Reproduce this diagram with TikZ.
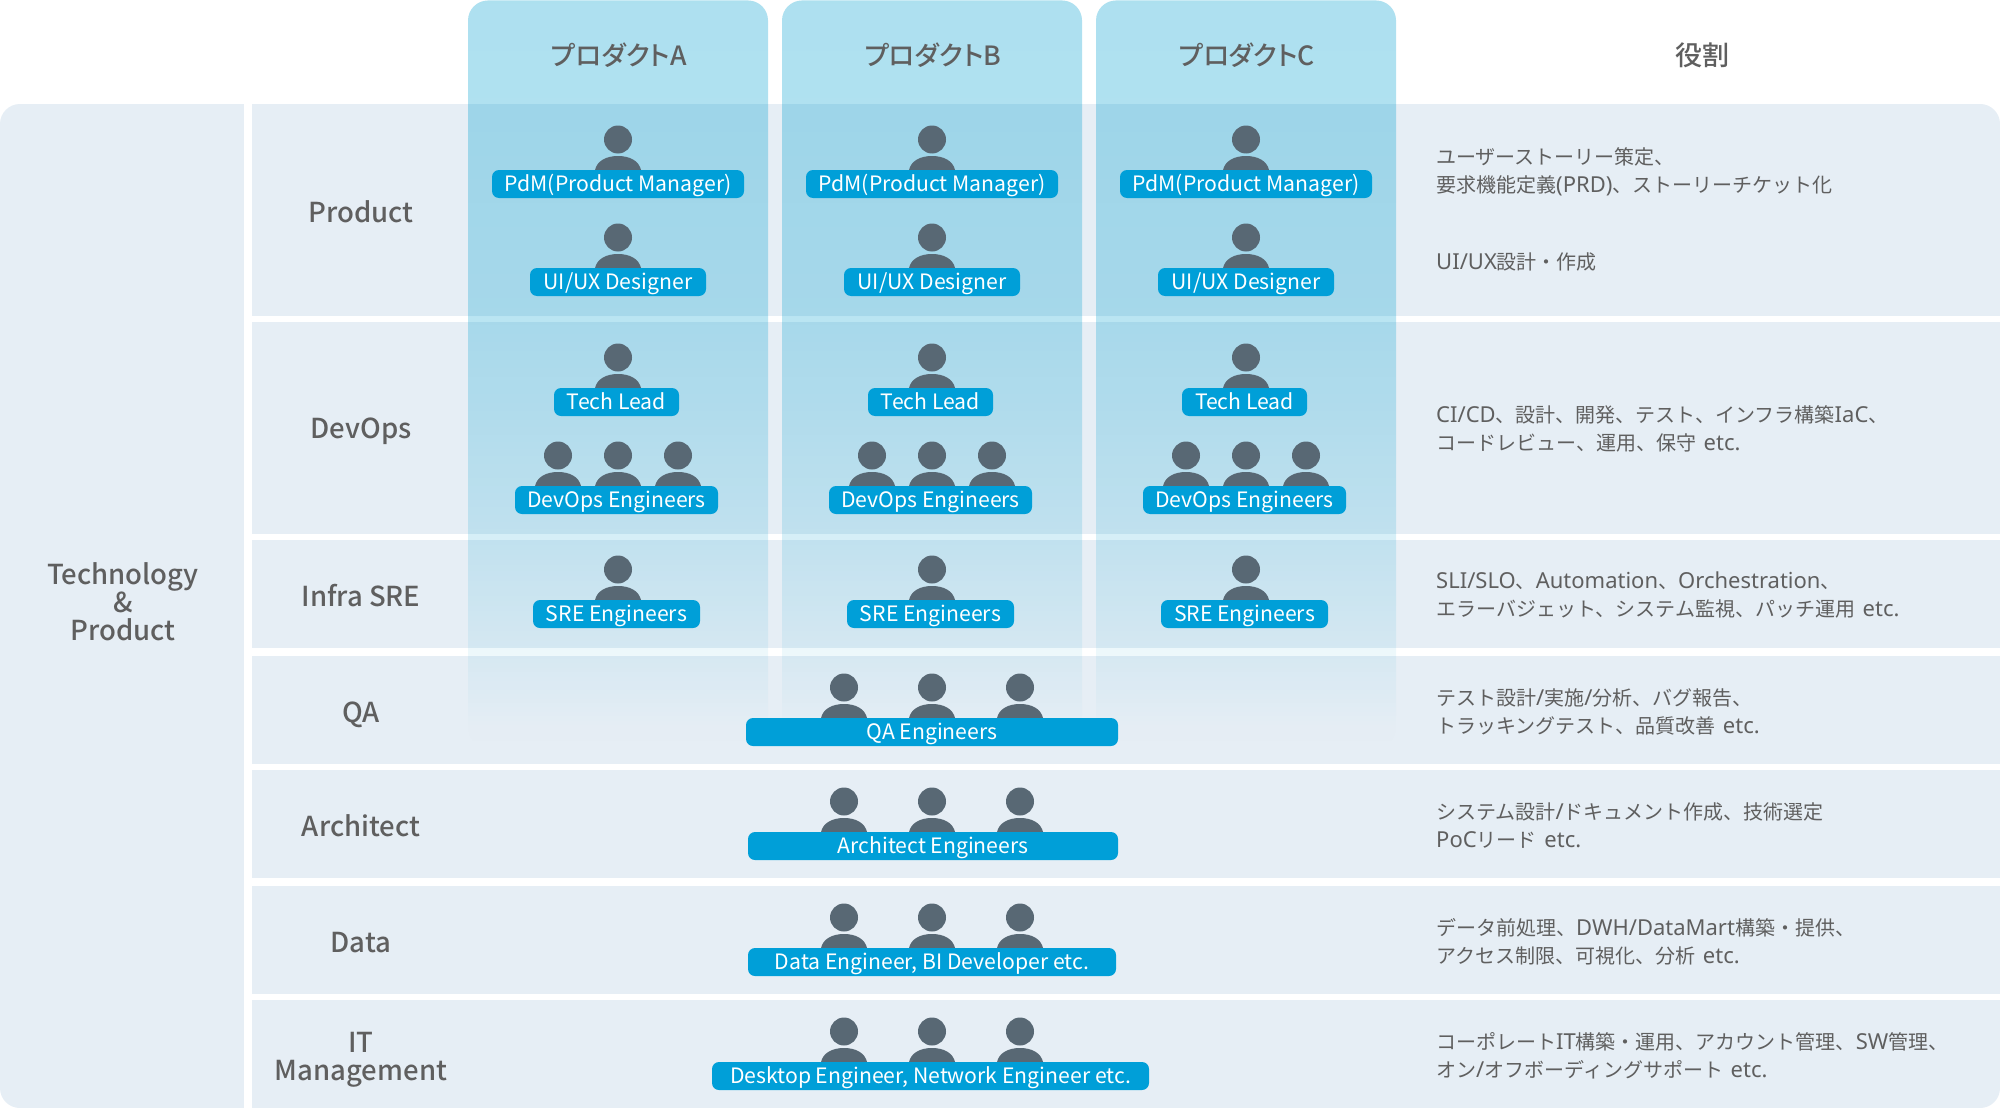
\documentclass[tikz,border=0pt]{standalone}
\usepackage{fontspec}
\usetikzlibrary{fadings}
\setmainfont{Noto Sans CJK JP}
\newfontfamily\medfont{Noto Sans CJK JP Medium}
\newfontfamily\medpalt[RawFeature={+palt}]{Noto Sans CJK JP Medium}
\newfontfamily\latfont{Noto Sans}
\definecolor{rowbg}{HTML}{E6EEF5}
\definecolor{colband}{HTML}{00A0D0}
\definecolor{pillblue}{HTML}{009FD8}
\definecolor{persongray}{HTML}{586874}
\definecolor{txtgray}{HTML}{5F5F5F}
\pgfdeclareverticalshading{colshade}{100bp}{%
 color(0bp)=(black);
 color(25bp)=(black);
 color(26.6bp)=(white!0.5!black);
 color(32.2bp)=(white!8!black);
 color(39.5bp)=(white!16.5!black);
 color(46.9bp)=(white!22.5!black);
 color(54.95bp)=(white!28!black);
 color(67bp)=(white!31!black);
 color(75bp)=(white!32!black);
 color(100bp)=(white!32!black)}
\pgfdeclarefading{colfade}{\pgfuseshading{colshade}}
\newcommand{\fsz}[2]{\fontsize{#1pt}{#2pt}\selectfont}
\newcommand{\lat}[1]{{\latfont\fontsize{22pt}{28pt}\selectfont #1}}
\newcommand{\etcs}{\kern2pt\lat{ etc.}}
\newcommand{\persona}[3]{%
 \fill[persongray] (#2,#3-30.5) circle[radius=14];
 \fill[persongray] (#2-23,#3+2) -- (#2-23,#3) .. controls (#2-21,#3-9) and (#2-12,#3-14) .. (#2,#3-14)
   .. controls (#2+12,#3-14) and (#2+21,#3-9) .. (#2+23,#3) -- (#2+23,#3+2) -- cycle;}
\tikzset{
 pill/.style={fill=pillblue,rounded corners=7pt,inner sep=0pt,minimum height=28pt,text=white,
   font=\fsz{21.2}{21},anchor=center,text depth=0pt,text height=14pt},
 rowlabel/.style={text=txtgray,font=\medfont\fsz{27.5}{28},align=center,inner sep=0pt,text height=20pt,text depth=6pt},
 rowlabelm/.style={text=txtgray,font=\medfont\fsz{27.5}{28},align=center,inner sep=0pt},
 head/.style={text=txtgray,font=\medpalt\fsz{26.5}{28},inner sep=0pt},
 role/.style={text=txtgray,font=\fsz{20}{28},align=left,anchor=west,inner sep=0pt,
   execute at begin node={\rule{0pt}{20pt}},execute at end node={\rule[-8pt]{0pt}{8pt}}}
}
\begin{document}
\begin{tikzpicture}[x=1pt,y=-1pt]
\useasboundingbox (0,0) rectangle (2000,1108);
\fill[white] (0,0) rectangle (2000,1108);
% table background
\begin{scope}
 \clip[rounded corners=20pt] (0,104) rectangle (2000,1108);
 \fill[rowbg] (0,104) rectangle (244,1108);
 \fill[rowbg] (252,104) rectangle (2000,316);
 \fill[rowbg] (252,322) rectangle (2000,534);
 \fill[rowbg] (252,540) rectangle (2000,648);
 \fill[rowbg] (252,656) rectangle (2000,764);
 \fill[rowbg] (252,770) rectangle (2000,878);
 \fill[rowbg] (252,886) rectangle (2000,994);
 \fill[rowbg] (252,1000) rectangle (2000,1108);
\end{scope}
% product columns
\foreach \dx in {0,314,628}{
 \fill[colband,path fading=colfade,rounded corners=20pt] (468+\dx,748) -- (468+\dx,0) -- (768+\dx,0) -- (768+\dx,748) -- cycle;
}
% column content
\foreach \c/\dx/\t in {a/0/A,b/314/B,c/628/C}{
 \node[head] (head\c) at (619+\dx,55) {プロダクト\t};
 \persona{}{618+\dx}{170}
 \node[pill,minimum width=252pt] (pdm\c) at (618+\dx,184) {PdM(Product Manager)};
 \persona{}{618+\dx}{268}
 \node[pill,minimum width=176pt] (ux\c) at (618+\dx,282) {UI/UX Designer};
 \persona{}{618+\dx}{388}
 \node[pill,minimum width=125pt] (tl\c) at (616.5+\dx,402) {Tech Lead};
 \persona{}{558+\dx}{486}
 \persona{}{618+\dx}{486}
 \persona{}{678+\dx}{486}
 \node[pill,minimum width=203pt] (dev\c) at (616.5+\dx,500) {DevOps Engineers};
 \persona{}{618+\dx}{600}
 \node[pill,minimum width=167pt] (sre\c) at (616.5+\dx,614) {SRE Engineers};
}
% shared rows
\foreach \top in {718,832,948,1062}{
 \persona{}{844}{\top}
 \persona{}{932}{\top}
 \persona{}{1020}{\top}
}
\node[pill,minimum width=372pt] (qa) at (932,732) {QA Engineers};
\node[pill,minimum width=370pt] (arch) at (933,846) {Architect Engineers};
\node[pill,minimum width=368pt] (data) at (932,962) {Data Engineer, BI Developer etc.};
\node[pill,minimum width=437pt] (it) at (930.5,1076) {Desktop Engineer, Network Engineer etc.};
% labels
\node[head,font=\medfont\fsz{27}{28}] (rolehead) at (1702,55) {役割};
\node[rowlabelm] (tp) at (123,602) {Technology\\\&\\Product};
\node[rowlabel] (rproduct) at (361,215.5) {Product};
\node[rowlabel] (rdevops) at (361,431) {DevOps};
\node[rowlabel] (rinfra) at (361,599) {Infra SRE};
\node[rowlabel] (rqa) at (361,715) {QA};
\node[rowlabel] (rarch) at (361,829) {Architect};
\node[rowlabel] (rdata) at (361,945) {Data};
\node[rowlabelm] (rit) at (361,1060) {IT\\Management};
% roles
\node[role] (t1) at (1436,174) {ユーザーストーリー策定、\\要求機能定義\lat{(PRD)}、ストーリーチケット化};
\node[role] (t2) at (1436,263.2) {\lat{UI/UX}設計・作成};
\node[role] (t3) at (1436,432.5) {\lat{CI/CD}、設計、開発、テスト、インフラ構築\lat{IaC}、\\コードレビュー、運用、保守\etcs};
\node[role] (t4) at (1436,598.5) {\lat{SLI/SLO}、\lat{Automation}、\lat{Orchestration}、\\エラーバジェット、システム監視、パッチ運用\etcs};
\node[role] (t5) at (1436,715) {テスト設計\lat{/}実施\lat{/}分析、バグ報告、\\トラッキングテスト、品質改善\etcs};
\node[role] (t6) at (1436,829) {システム設計\lat{/}ドキュメント作成、技術選定\\\lat{PoC}リード\etcs};
\node[role] (t7) at (1436,945) {データ前処理、\lat{DWH/DataMart}構築・提供、\\アクセス制限、可視化、分析\etcs};
\node[role] (t8) at (1436,1058.5) {コーポレート\lat{IT}構築・運用、アカウント管理、\lat{SW}管理、\\オン\lat{/}オフボーディングサポート\etcs};
\end{tikzpicture}
\end{document}
